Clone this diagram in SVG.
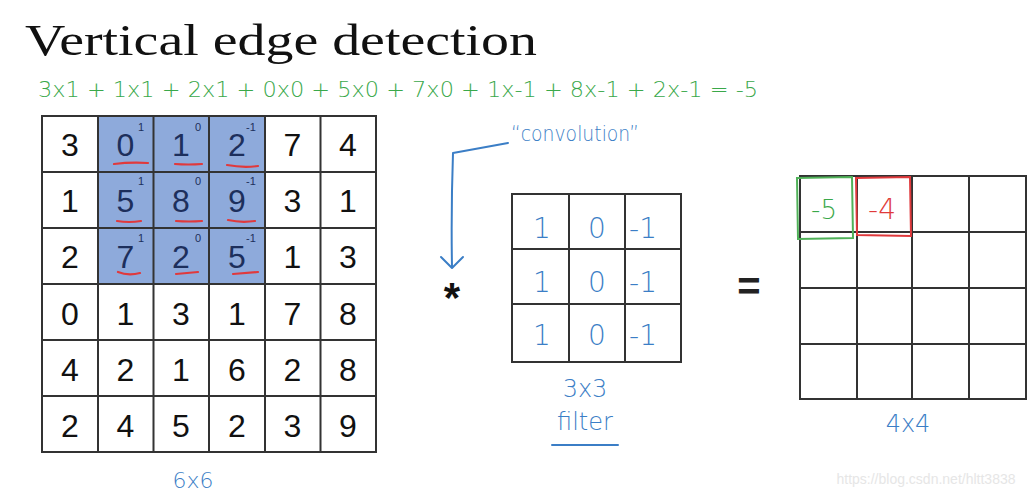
<svg xmlns="http://www.w3.org/2000/svg" width="1036" height="496" viewBox="0 0 1036 496">
<style>
.grid{fill:none;stroke:#333;stroke-width:2}
.num{font-family:"Liberation Sans",Arial,sans-serif;font-size:32px;fill:#111;text-anchor:middle}
.hl{fill:#1d2f5c}
.sup{font-family:"Liberation Sans",Arial,sans-serif;font-size:11px;fill:#1d2f5c;text-anchor:middle}
.hand{font-family:"DejaVu Sans","Liberation Sans",sans-serif;font-weight:300;text-anchor:middle}
.blue{fill:#3b7ec6}
.green{fill:#3aa84a}
.red{fill:#e03a3a}
.ul{fill:none;stroke:#e0393c;stroke-width:2.2;stroke-linecap:round}
.conn{fill:none;stroke:#3b7ec6;stroke-width:2;stroke-linecap:round;stroke-linejoin:round}
</style>
<rect width="1036" height="496" fill="#fff"/>

<g id="title">
<text x="25" y="55" font-family="'Liberation Serif','Times New Roman',serif" font-size="44" fill="#111" textLength="512" lengthAdjust="spacingAndGlyphs">Vertical edge detection</text>
</g>

<g id="equation">
<text x="398" y="97" class="hand green" font-size="22" textLength="720" lengthAdjust="spacingAndGlyphs">3x1 + 1x1  + 2x1 + 0x0 + 5x0 + 7x0 + 1x-1 + 8x-1 + 2x-1 = -5</text>
</g>

<g id="input-6x6">
<rect x="98" y="116" width="167" height="168" fill="#8eaadb"/>
<rect class="grid" x="42" y="116" width="334" height="336"/>
<path class="grid" d="M98 116V452M153.5 116V452M209 116V452M265 116V452M320.5 116V452M42 172H376M42 228H376M42 284H376M42 340H376M42 396H376"/>
<g class="num">
<text x="70" y="156">3</text><text x="125.5" y="156" class="hl">0</text><text x="181" y="156" class="hl">1</text><text x="237" y="156" class="hl">2</text><text x="292.5" y="156">7</text><text x="348" y="156">4</text>
<text x="70" y="212">1</text><text x="125.5" y="212" class="hl">5</text><text x="181" y="212" class="hl">8</text><text x="237" y="212" class="hl">9</text><text x="292.5" y="212">3</text><text x="348" y="212">1</text>
<text x="70" y="268">2</text><text x="125.5" y="268" class="hl">7</text><text x="181" y="268" class="hl">2</text><text x="237" y="268" class="hl">5</text><text x="292.5" y="268">1</text><text x="348" y="268">3</text>
<text x="70" y="325">0</text><text x="125.5" y="325">1</text><text x="181" y="325">3</text><text x="237" y="325">1</text><text x="292.5" y="325">7</text><text x="348" y="325">8</text>
<text x="70" y="381">4</text><text x="125.5" y="381">2</text><text x="181" y="381">1</text><text x="237" y="381">6</text><text x="292.5" y="381">2</text><text x="348" y="381">8</text>
<text x="70" y="437">2</text><text x="125.5" y="437">4</text><text x="181" y="437">5</text><text x="237" y="437">2</text><text x="292.5" y="437">3</text><text x="348" y="437">9</text>
</g>
<g class="sup">
<text x="141" y="131">1</text><text x="198" y="131">0</text><text x="251" y="131">-1</text>
<text x="141" y="185">1</text><text x="198" y="185">0</text><text x="251" y="185">-1</text>
<text x="141" y="242">1</text><text x="198" y="242">0</text><text x="251" y="242">-1</text>
</g>
<path class="ul" d="M114 164Q130 162 148 163M175 164Q188 165 202 164M227 165Q243 168 258 166M117 221Q129 223 141 221M176 221Q189 222 202 221M228 220Q241 223 255 221M118 272Q128 276 140 273M176 274Q187 273 198 272M233 274Q245 273 258 272"/>
<text x="193" y="488" class="hand blue" font-size="22">6x6</text>
</g>

<g id="conv-label">
<text x="575" y="141" class="hand blue" font-size="21" textLength="128" lengthAdjust="spacingAndGlyphs">“convolution”</text>
</g>

<g id="connectors">
<path class="conn" d="M508 143Q480 148 453 153Q451 210 452 267"/>
<path class="conn" d="M441 257L452 268L463 257"/>
</g>

<g id="operator-star">
<text x="452" y="312" font-family="'Liberation Sans',Arial,sans-serif" font-size="42" font-weight="bold" fill="#111" text-anchor="middle">*</text>
</g>

<g id="filter-3x3">
<rect class="grid" x="512" y="194" width="169" height="168"/>
<path class="grid" d="M569 194V362M625 194V362M512 249H681M512 304H681"/>
<g class="hand blue" font-size="28">
<text x="542" y="238">1</text><text x="597" y="238">0</text><text x="643" y="238">-1</text>
<text x="542" y="292">1</text><text x="597" y="292">0</text><text x="643" y="292">-1</text>
<text x="542" y="345">1</text><text x="597" y="345">0</text><text x="643" y="345">-1</text>
</g>
<text x="585" y="397" class="hand blue" font-size="24">3x3</text>
<text x="585" y="430" class="hand blue" font-size="24">filter</text>
<path class="conn" d="M552 445L618 445"/>
</g>

<g id="operator-equals">
<text x="749" y="300" font-family="'Liberation Sans',Arial,sans-serif" font-size="40" font-weight="bold" fill="#222" text-anchor="middle">=</text>
</g>

<g id="output-4x4">
<rect class="grid" x="800" y="176" width="226" height="223"/>
<path class="grid" d="M857 176V399M912 176V399M969 176V399M800 232H1026M800 288H1026M800 344H1026"/>
<path d="M797 178L852 177L853 238L798 239Z" fill="none" stroke="#4fb158" stroke-width="2"/>
<path d="M856 178L910 177L911 236L857 235Z" fill="none" stroke="#e0393c" stroke-width="2"/>
<text x="824" y="219" class="hand green" font-size="26">-5</text>
<text x="882" y="219" class="hand red" font-size="28">-4</text>
<text x="908" y="432" class="hand blue" font-size="24">4x4</text>
</g>

<g id="watermark">
<text x="926" y="484" font-family="'Liberation Sans',Arial,sans-serif" font-size="14" fill="#e6e6e6" text-anchor="middle">https://blog.csdn.net/hltt3838</text>
</g>
</svg>
